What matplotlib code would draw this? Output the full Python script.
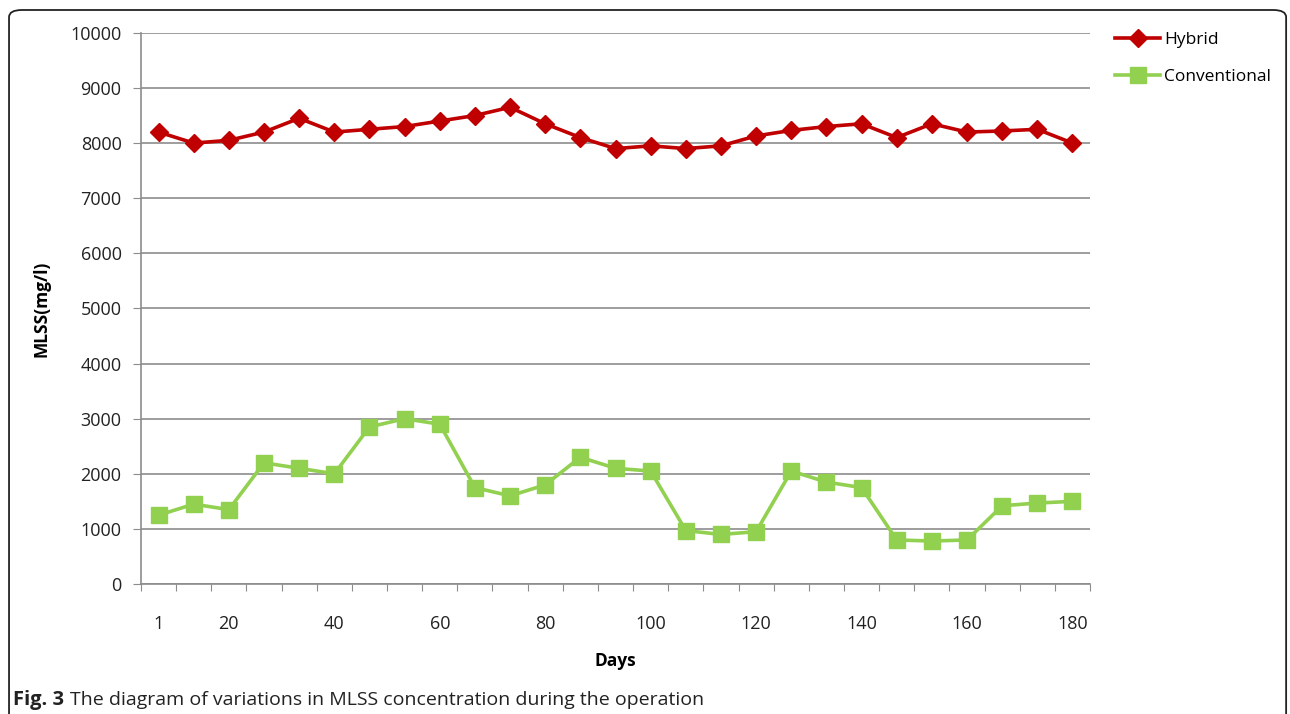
import matplotlib.pyplot as plt
from matplotlib.patches import FancyBboxPatch

plt.rcParams['font.family'] = ['Open Sans', 'DejaVu Sans']

# MLSS (mg/l) sampled along the operation period
hybrid = [8200, 8000, 8050, 8200, 8450, 8200, 8250, 8300, 8400, 8500, 8650, 8350, 8100,
          7900, 7950, 7900, 7950, 8130, 8230, 8300, 8350, 8100, 8350, 8200, 8220, 8250, 8000]
conventional = [1250, 1450, 1350, 2200, 2100, 2000, 2850, 3000, 2900, 1750, 1600, 1800, 2300,
                2100, 2050, 970, 900, 950, 2050, 1850, 1750, 800, 780, 800, 1420, 1470, 1500]
day_labels = ['1', '20', '40', '60', '80', '100', '120', '140', '160', '180']
label_idx = [0, 2, 5, 8, 11, 14, 17, 20, 23, 26]

n = len(hybrid)
x = list(range(n))

fig = plt.figure(figsize=(12.9, 7.14), dpi=100)
ax = fig.add_axes([0.1093, 0.182, 0.7357, 0.772])

ax.plot(x, hybrid, color='#C00000', lw=2.6, marker='D', ms=9,
        label='Hybrid', zorder=3)
ax.plot(x, conventional, color='#92D050', lw=2.6, marker='s', ms=11,
        label='Conventional', zorder=3)

ax.set_xlim(-0.5, n - 0.5)
ax.set_ylim(0, 10000)
ax.set_yticks(range(0, 10001, 1000))
ax.yaxis.grid(True, color='#8c8c8c', lw=1.2)
ax.set_axisbelow(True)

# tick marks sit between categories, labels under selected points
ax.set_xticks([i - 0.5 for i in range(n + 1)])
ax.set_xticklabels([])
ax.set_xticks(label_idx, minor=True)
ax.set_xticklabels(day_labels, minor=True)
ax.tick_params(axis='x', which='major', direction='out', length=5, color='#8c8c8c')
ax.tick_params(axis='x', which='minor', length=0, pad=22, labelsize=13, labelcolor='#222222')
ax.tick_params(axis='y', direction='out', length=6, color='#8c8c8c', labelsize=13,
               labelcolor='#222222', pad=8)

for side in ['top', 'right']:
    ax.spines[side].set_visible(False)
for side in ['left', 'bottom']:
    ax.spines[side].set_color('#8c8c8c')
    ax.spines[side].set_linewidth(1.2)

ax.set_xlabel('Days', fontsize=12.5, fontweight='bold', labelpad=14)
ax.set_ylabel('MLSS(mg/l)', fontsize=12.5, fontweight='bold', labelpad=14)

ax.legend(loc='upper left', bbox_to_anchor=(1.01, 1.03), frameon=False,
          fontsize=12.5, handlelength=2.6, labelspacing=1.2, handletextpad=0.2)

# caption: bold figure number followed by the description
cap_y = 0.013
fig_no = fig.text(0.010, cap_y, 'Fig. 3', fontsize=14.5, fontweight='bold', color='#222222')
fig.canvas.draw()
bb = fig_no.get_window_extent()
fig.text(bb.x1 / fig.bbox.width + 0.005, cap_y,
         'The diagram of variations in MLSS concentration during the operation',
         fontsize=14, color='#222222')

frame = FancyBboxPatch((0.007, -0.05), 0.99, 1.036, boxstyle='round,pad=0,rounding_size=0.01',
                       transform=fig.transFigure, fill=False, ec='#222222', lw=1.3)
fig.patches.append(frame)

fig.savefig('out.png', dpi=100)
